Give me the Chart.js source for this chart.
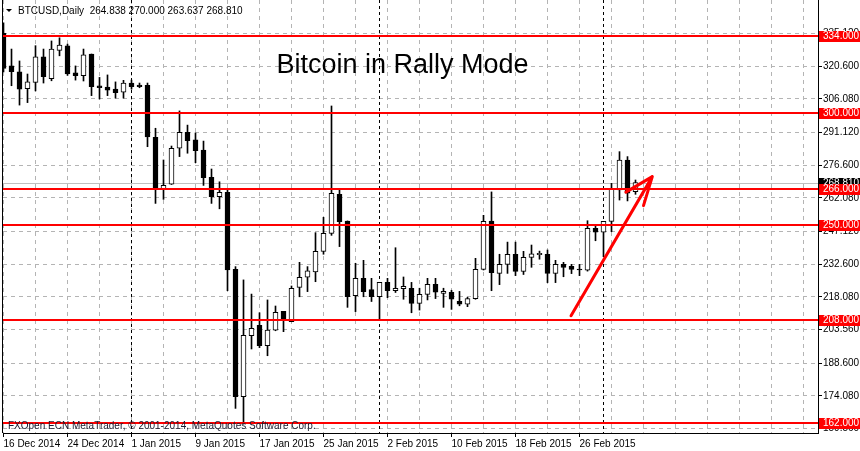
<!DOCTYPE html>
<html>
<head>
<meta charset="utf-8">
<title>BTCUSD Daily</title>
<script src="https://cdn.jsdelivr.net/npm/chart.js@4.4.1/dist/chart.umd.min.js"></script>
<style>
    html, body { margin: 0; padding: 0; background: #fff; }
    canvas { display: block; }
</style>
</head>
<body>
<canvas id="myChart" width="860" height="451"></canvas>
<script>
//candele giornaliere dal 16 Dec 2014 (indice 0) al 5 Mar 2015 (indice 79)
let opens = [335.2, 320.7, 318.1, 310.6, 313.4, 324.7, 315.0, 327.6, 329.6, 317.6,
             316.4, 326.0, 311.8, 311.3, 310.4, 309.0, 313.1, 312.2, 312.1, 289.0,
             265.9, 268.1, 284.1, 291.2, 287.8, 283.3, 271.2, 262.6, 264.5, 230.3,
             173.7, 200.8, 205.4, 196.4, 203.3, 211.6, 207.0, 222.3, 226.8, 229.2,
             238.3, 246.3, 263.6, 251.8, 218.6, 226.3, 221.3, 218.1, 224.5, 220.8,
             221.7, 221.9, 215.2, 219.2, 223.6, 219.6, 220.1, 216.1, 214.8, 217.3,
             230.3, 251.8, 228.5, 232.5, 237.0, 229.4, 235.6, 236.8, 237.0, 228.5,
             232.5, 231.6, 230.4, 229.9, 248.5, 246.8, 251.6, 265.6, 278.9, 264.838],
    highs = [339.8, 328.2, 322.9, 317.1, 329.7, 328.2, 331.8, 333.2, 330.4, 320.7,
             328.2, 326.0, 315.6, 316.7, 313.6, 314.3, 314.4, 313.1, 313.1, 293.0,
             278.9, 285.1, 300.7, 294.4, 290.9, 287.3, 274.9, 269.2, 266.3, 231.5,
             225.6, 219.3, 211.0, 216.7, 214.0, 211.6, 222.9, 233.4, 231.5, 246.6,
             253.4, 302.9, 266.3, 251.8, 233.0, 234.3, 226.3, 224.5, 226.3, 239.9,
             226.9, 224.5, 221.9, 226.3, 226.3, 221.9, 221.0, 220.5, 217.9, 235.2,
             254.3, 264.7, 237.0, 242.4, 242.4, 238.3, 241.1, 238.4, 238.9, 234.3,
             233.4, 232.5, 232.5, 251.9, 250.3, 251.6, 268.5, 282.6, 280.4, 270.000],
    lows   = [318.0, 311.9, 303.3, 304.4, 309.6, 313.1, 314.1, 325.2, 316.5, 314.4,
             314.0, 307.5, 306.0, 307.5, 306.4, 306.4, 310.4, 311.0, 284.8, 259.6,
             261.4, 268.0, 280.4, 281.9, 277.7, 267.6, 259.6, 257.2, 220.8, 168.5,
             161.5, 194.9, 195.5, 191.9, 203.0, 202.6, 207.0, 218.1, 220.4, 224.8,
             237.0, 245.4, 240.4, 213.4, 211.5, 218.1, 216.0, 207.8, 217.7, 220.0,
             217.0, 211.0, 212.2, 216.7, 217.3, 213.4, 212.5, 214.1, 213.7, 217.0,
             230.0, 220.8, 223.5, 228.5, 227.5, 228.0, 231.2, 234.8, 224.4, 224.4,
             227.0, 228.4, 227.5, 229.5, 243.0, 235.9, 247.0, 261.1, 260.7, 263.637],
    closes = [319.6, 318.1, 310.4, 313.6, 324.7, 315.9, 328.2, 330.0, 317.2, 316.4,
             325.6, 311.5, 311.0, 309.9, 308.8, 313.1, 311.5, 311.5, 289.2, 266.0,
             267.6, 284.1, 291.2, 287.5, 283.0, 271.0, 262.6, 264.5, 230.0, 173.7,
             201.0, 204.1, 196.4, 203.3, 211.2, 208.1, 221.9, 226.8, 229.6, 238.3,
             246.3, 264.1, 251.5, 218.1, 226.3, 220.4, 218.1, 224.5, 220.8, 221.9,
             222.8, 215.2, 219.2, 223.6, 220.1, 220.5, 217.0, 214.8, 217.3, 230.3,
             251.6, 228.8, 232.5, 237.0, 229.4, 235.6, 237.2, 237.4, 228.5, 232.5,
             231.2, 230.3, 230.0, 248.5, 246.8, 251.6, 266.0, 278.9, 264.1, 268.810];

let dateTicks = [0, 8, 16, 24, 32, 40, 48, 56, 64, 72],
    dateLabels = ["16 Dec 2014", "24 Dec 2014", "1 Jan 2015", "9 Jan 2015", "17 Jan 2015",
                  "25 Jan 2015", "2 Feb 2015", "10 Feb 2015", "18 Feb 2015", "26 Feb 2015"],
    gridDays = [],
    monthStarts = [16, 47, 75],
    priceTicks = [159.56, 174.08, 188.6, 203.56, 218.08, 232.6, 247.12, 262.08,
                  276.6, 291.12, 306.08, 320.6, 335.12],
    levels = [334, 300, 266, 250, 208, 162],
    //freccia disegnata a mano (giorno, prezzo)
    arrowTail = [70.94, 209.7],
    arrowTip = [81.1, 271.5],
    arrowBarbs = [[77.8, 264.6], [80.0, 258.6]];

for (let d = 0; d <= 100; d += 4)
    gridDays.push(d);

let symbolText = "BTCUSD,Daily",
    titleText = "Bitcoin in Rally Mode",
    copyText = "FXOpen ECN MetaTrader, \u00a9 2001-2014, MetaQuotes Software Corp.",
    fontFamily = '"Liberation Sans", Arial, sans-serif',
    gridColor = "#b4b4b4";

Chart.defaults.font.family = fontFamily;

let overlay = {
    id: "overlay",
    beforeDatasetsDraw(chart) {
        let ctx = chart.ctx, a = chart.chartArea, x = chart.scales.x, y = chart.scales.y;
        ctx.save();
        //linea bid grigia
        let last = closes[closes.length - 1];
        let yb = Math.round(y.getPixelForValue(last)) + 0.5;
        ctx.strokeStyle = "#c0c0c0";
        ctx.lineWidth = 1;
        ctx.beginPath();
        ctx.moveTo(a.left, yb);
        ctx.lineTo(a.right, yb);
        ctx.stroke();
        //separatori mensili
        ctx.strokeStyle = "#000";
        ctx.setLineDash([3, 3]);
        monthStarts.forEach(d => {
            let px = Math.round(x.getPixelForValue(d) - 0.5) + 0.5;
            ctx.beginPath();
            ctx.moveTo(px, a.top);
            ctx.lineTo(px, a.bottom);
            ctx.stroke();
        });
        ctx.restore();
    },
    afterDatasetsDraw(chart) {
        let ctx = chart.ctx, a = chart.chartArea, x = chart.scales.x, y = chart.scales.y;
        ctx.save();
        ctx.beginPath();
        ctx.rect(a.left, a.top, a.right - a.left, a.bottom - a.top);
        ctx.clip();
        //livelli rossi
        ctx.strokeStyle = "#ff0000";
        ctx.lineWidth = 2;
        levels.forEach(v => {
            let py = Math.round(y.getPixelForValue(v));
            ctx.beginPath();
            ctx.moveTo(a.left, py);
            ctx.lineTo(a.right, py);
            ctx.stroke();
        });
        //freccia
        let tip = [x.getPixelForValue(arrowTip[0]), y.getPixelForValue(arrowTip[1])];
        ctx.lineWidth = 3;
        ctx.lineCap = "round";
        ctx.lineJoin = "round";
        ctx.beginPath();
        ctx.moveTo(x.getPixelForValue(arrowTail[0]), y.getPixelForValue(arrowTail[1]));
        ctx.lineTo(tip[0], tip[1]);
        arrowBarbs.forEach(b => {
            ctx.moveTo(tip[0], tip[1]);
            ctx.lineTo(x.getPixelForValue(b[0]), y.getPixelForValue(b[1]));
        });
        ctx.stroke();
        ctx.restore();
    },
    afterDraw(chart) {
        let ctx = chart.ctx, a = chart.chartArea, y = chart.scales.y;
        ctx.save();
        //bordo sinistro
        ctx.strokeStyle = "#000";
        ctx.lineWidth = 1;
        ctx.beginPath();
        ctx.moveTo(a.left - 0.5, 0);
        ctx.lineTo(a.left - 0.5, a.bottom);
        ctx.stroke();

        //etichette prezzo sull'asse
        ctx.font = "10px " + fontFamily;
        ctx.textBaseline = "middle";
        ctx.textAlign = "left";
        let tag = (v, bg) => {
            let py = Math.round(y.getPixelForValue(v));
            ctx.fillStyle = bg;
            ctx.fillRect(a.right + 1, py - 5, chart.width - a.right - 1, 11);
            ctx.fillStyle = "#fff";
            ctx.fillText(v.toFixed(3), a.right + 5, py + 0.5);
        };
        tag(closes[closes.length - 1], "#000");
        levels.forEach(v => tag(v, "#ff0000"));

        //intestazione
        let last = closes.length - 1;
        let header = symbolText + "  " + [opens[last], highs[last], lows[last], closes[last]]
            .map(v => v.toFixed(3)).join(" ");
        ctx.fillStyle = "#000";
        ctx.beginPath();
        ctx.moveTo(a.left + 3, 9);
        ctx.lineTo(a.left + 9, 9);
        ctx.lineTo(a.left + 6, 12);
        ctx.closePath();
        ctx.fill();
        ctx.fillText(header, a.left + 15, 11);

        //copyright
        ctx.fillStyle = "#1a1a2e";
        ctx.fillText(copyText, a.left + 5, a.bottom - 7);

        //titolo
        ctx.font = "27px " + fontFamily;
        ctx.fillStyle = "#000";
        ctx.textAlign = "center";
        ctx.textBaseline = "alphabetic";
        ctx.fillText(titleText, 402.5, 73);
        ctx.restore();
    }
};

let bodyData = opens.map((o, i) => ({ x: i, y: [o, closes[i]] })),
    wickData = lows.map((l, i) => ({ x: i, y: [l, highs[i]] })),
    bodyColors = opens.map((o, i) => closes[i] >= o ? "#ffffff" : "#000000");

let _myChart = new Chart(document.getElementById("myChart"), {
    type: "bar",
    data: {
        datasets: [
            {
                data: bodyData,
                backgroundColor: bodyColors,
                borderColor: "#000",
                borderWidth: 1,
                borderSkipped: false,
                barThickness: 5,
                minBarLength: 1,
                grouped: false,
                order: 1
            },
            {
                data: wickData,
                backgroundColor: "#000",
                borderWidth: 0,
                barThickness: 1,
                grouped: false,
                order: 2
            }
        ]
    },
    options: {
        responsive: false,
        animation: false,
        layout: { padding: { left: 3, top: 0, right: 0, bottom: 0 } },
        plugins: {
            legend: { display: false },
            tooltip: { enabled: false },
            title: { display: false }
        },
        scales: {
            x: {
                type: "linear",
                offset: false,
                min: -0.0625,
                max: 101.8125,
                afterBuildTicks: s => { s.ticks = gridDays.map(v => ({ value: v })); },
                afterFit: s => { s.height = 18; s.paddingLeft = 0; s.paddingRight = 0; },
                grid: {
                    offset: false,
                    color: gridColor,
                    tickLength: 4,
                    tickBorderDash: [],
                    tickColor: c => (c.tick && dateTicks.includes(c.tick.value)) ? "#000" : "rgba(0,0,0,0)"
                },
                border: { display: true, color: "#000", width: 1, dash: [4, 4] },
                ticks: {
                    autoSkip: false,
                    maxRotation: 0,
                    align: "start",
                    padding: 1,
                    color: "#000",
                    font: { size: 10 },
                    callback: v => {
                        let i = dateTicks.indexOf(v);
                        return i >= 0 ? dateLabels[i] : "";
                    }
                }
            },
            y: {
                position: "right",
                min: 157.56,
                max: 350,
                afterBuildTicks: s => { s.ticks = priceTicks.map(v => ({ value: v })); },
                afterFit: s => { s.width = 42; s.paddingTop = 0; s.paddingBottom = 0; },
                grid: { color: gridColor, tickColor: "#000", tickLength: 4, tickBorderDash: [] },
                border: { display: true, color: "#000", width: 1, dash: [4, 4] },
                ticks: {
                    autoSkip: false,
                    padding: 1,
                    color: "#000",
                    font: { size: 10 },
                    callback: v => Number(v).toFixed(3)
                }
            }
        }
    },
    plugins: [overlay]
});
</script>
</body>
</html>
